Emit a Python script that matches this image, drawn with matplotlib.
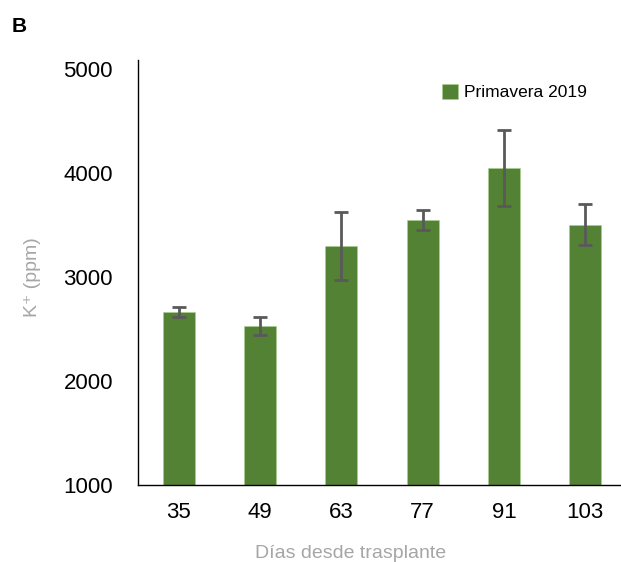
import matplotlib
matplotlib.use("Agg")
import matplotlib.pyplot as plt

# data
dias = ["35", "49", "63", "77", "91", "103"]
potasio = [2661, 2529, 3298, 3551, 4045, 3503]
error = [50, 87, 325, 96, 367, 194]
serie = "Primavera 2019"

plt.rcParams["font.family"] = ["Liberation Sans", "DejaVu Sans"]

fig = plt.figure(figsize=(6.21, 5.62), dpi=100)
ax = fig.add_axes([138 / 621, 77 / 562, 488 / 621, 425 / 562])

x = range(len(dias))
ax.bar(x, potasio, width=0.39, color="#548235", edgecolor="#A9D18E", linewidth=0.4,
       label=serie, zorder=2)
ax.errorbar(x, potasio, yerr=error, fmt="none", ecolor="#595959", elinewidth=2,
            capsize=4.7, capthick=2, zorder=3)

ax.set_xlim(-0.5, 5.5)
ax.set_ylim(1000, 5085)
ax.set_yticks([1000, 2000, 3000, 4000, 5000])
ax.set_xticks(list(x))
ax.set_xticklabels(dias)
ax.tick_params(axis="both", length=0, labelsize=16, colors="black")
ax.tick_params(axis="y", pad=18)
ax.tick_params(axis="x", pad=12)

for s in ["top", "right"]:
    ax.spines[s].set_visible(False)
for s in ["left", "bottom"]:
    ax.spines[s].set_color("black")
    ax.spines[s].set_linewidth(1)

ax.set_ylabel("K⁺ (ppm)", color="#A6A6A6", fontsize=14)
ax.yaxis.set_label_coords((41 - 138) / 488, 0.49)
ax.set_xlabel("Días desde trasplante", color="#A6A6A6", fontsize=14)
ax.xaxis.set_label_coords((351 - 138) / 488, -0.14)

fig.legend(loc="upper left", bbox_to_anchor=(426 / 621, 1 - 68 / 562), frameon=False,
           fontsize=12.5, handlelength=0.95, handleheight=0.95, handletextpad=0.35)

fig.text(12 / 621, 1 - 27 / 562, "B", fontsize=15, fontweight="bold",
         va="center", ha="left")

fig.savefig("out.png", dpi=100)
